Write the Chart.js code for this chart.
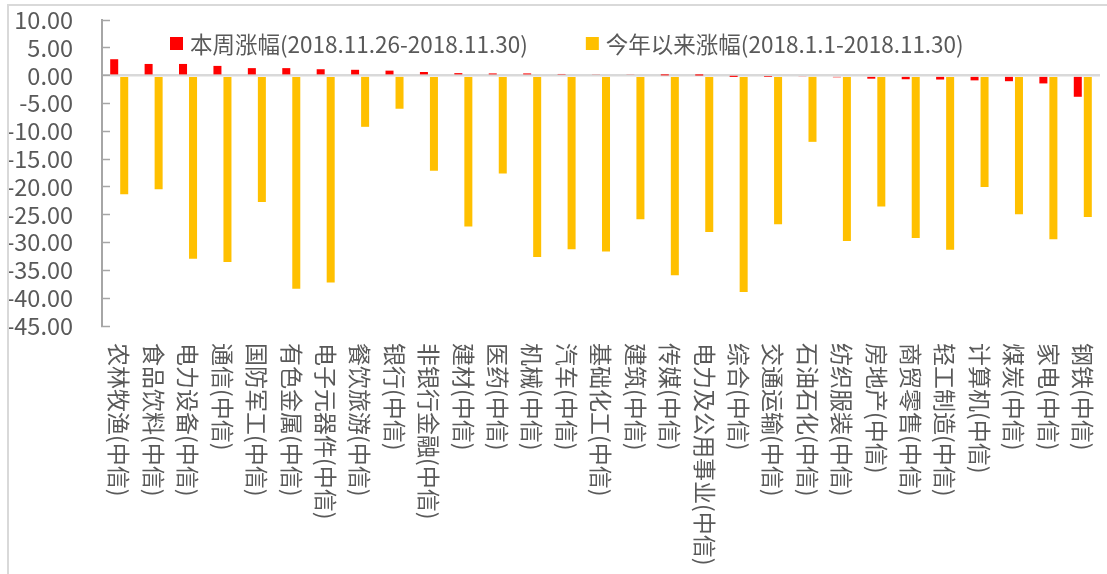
<!DOCTYPE html>
<html>
<head>
<meta charset="utf-8">
<script src="https://cdn.jsdelivr.net/npm/chart.js@4.4.1/dist/chart.umd.min.js"></script>
<style>
  html, body { margin: 0; padding: 0; background: #fff; }
  #wrap { position: relative; width: 1107px; height: 574px; overflow: hidden; }
  #frame { position: absolute; left: 7px; top: 4px; width: 1110px; height: 580px;
           border-top: 2px solid #d9d9d9; border-left: 2px solid #d9d9d9; pointer-events: none; }
  canvas { display: block; }
</style>
</head>
<body>
<div id="wrap">
  <canvas id="c" width="1107" height="574"></canvas>
  <div id="frame"></div>
</div>
<script>
const categories = [
  '农林牧渔(中信)', '食品饮料(中信)', '电力设备(中信)', '通信(中信)', '国防军工(中信)',
  '有色金属(中信)', '电子元器件(中信)', '餐饮旅游(中信)', '银行(中信)', '非银行金融(中信)',
  '建材(中信)', '医药(中信)', '机械(中信)', '汽车(中信)', '基础化工(中信)',
  '建筑(中信)', '传媒(中信)', '电力及公用事业(中信)', '综合(中信)', '交通运输(中信)',
  '石油石化(中信)', '纺织服装(中信)', '房地产(中信)', '商贸零售(中信)', '轻工制造(中信)',
  '计算机(中信)', '煤炭(中信)', '家电(中信)', '钢铁(中信)'
];
const seriesNames = ['本周涨幅(2018.11.26-2018.11.30)', '今年以来涨幅(2018.1.1-2018.11.30)'];
const weekChange = [
  2.95, 2.1, 2.1, 1.75, 1.35, 1.35, 1.15, 1.05, 0.9, 0.65,
  0.45, 0.4, 0.4, 0.3, 0.25, 0.2, 0.05, 0.02, -0.03, -0.1,
  -0.2, -0.3, -0.55, -0.65, -0.7, -0.85, -1.0, -1.4, -3.8
];
const ytdChange = [
  -21.3, -20.4, -32.9, -33.5, -22.7, -38.3, -37.2, -9.2, -5.95, -17.1,
  -27.1, -17.6, -32.6, -31.2, -31.6, -25.8, -35.9, -28.1, -38.9, -26.7,
  -11.9, -29.7, -23.5, -29.2, -31.3, -20.0, -24.9, -29.4, -25.4
];
const yTicks = { min: -45, max: 10, step: 5 };
const seriesColors = ['#FF0000', '#FFC000'];

const FONT = "'Noto Sans CJK SC', 'Noto Sans', sans-serif";
const TEXT = '#595959';

const rotatedLabels = {
  id: 'rotatedLabels',
  afterDraw(chart) {
    const ctx = chart.ctx;
    const xs = chart.scales.x;
    const top = chart.chartArea.bottom + 17;
    ctx.save();
    ctx.fillStyle = TEXT;
    ctx.font = '23px ' + FONT;
    ctx.textAlign = 'left';
    ctx.textBaseline = 'middle';
    chart.data.labels.forEach((lab, i) => {
      const x = xs.getPixelForTick(i);
      ctx.save();
      ctx.translate(x, top);
      ctx.rotate(Math.PI / 2);
      ctx.fillText(lab, 0, 0);
      ctx.restore();
    });
    ctx.restore();
  }
};

const innerLegend = {
  id: 'innerLegend',
  afterDraw(chart) {
    const ctx = chart.ctx;
    ctx.save();
    ctx.font = '22.5px ' + FONT;
    ctx.textBaseline = 'middle';
    ctx.textAlign = 'left';
    let x = 170;
    const yc = 44;
    chart.data.datasets.forEach(ds => {
      ctx.fillStyle = ds.backgroundColor;
      ctx.fillRect(x, yc - 7, 13, 13);
      ctx.fillStyle = TEXT;
      ctx.fillText(ds.label, x + 20, yc);
      x += 20 + ctx.measureText(ds.label).width + 58;
    });
    ctx.restore();
  }
};

function build() {
  new Chart(document.getElementById('c'), {
    type: 'bar',
    data: {
      labels: categories,
      datasets: [
        { label: seriesNames[0], data: weekChange, backgroundColor: seriesColors[0],
          categoryPercentage: 0.582, barPercentage: 0.8 },
        { label: seriesNames[1], data: ytdChange, backgroundColor: seriesColors[1],
          categoryPercentage: 0.582, barPercentage: 0.8 }
      ]
    },
    options: {
      responsive: false,
      animation: false,
      devicePixelRatio: 1,
      layout: { padding: { top: 20, right: 7, left: 0, bottom: 0 } },
      plugins: { legend: { display: false }, tooltip: { enabled: false } },
      scales: {
        x: {
          grid: { display: false },
          border: { display: false },
          ticks: { display: false },
          afterFit(s) { s.height = 248; s.paddingLeft = 0; s.paddingRight = 0; }
        },
        y: {
          min: yTicks.min, max: yTicks.max,
          ticks: {
            stepSize: yTicks.step,
            autoSkip: false,
            color: TEXT,
            font: { family: FONT, size: 23.5 },
            padding: 37,
            callback: v => Number(v).toFixed(2)
          },
          grid: {
            drawOnChartArea: true,
            color: c => (c.tick && c.tick.value === 0) ? '#d9d9d9' : 'rgba(0,0,0,0)',
            lineWidth: c => (c.tick && c.tick.value === 0) ? 2.5 : 1,
            tickColor: '#a6a6a6',
            tickWidth: 1.5,
            tickLength: -8
          },
          border: { display: true, color: '#a6a6a6', width: 2 },
          afterFit(s) { s.width = 102; s.paddingTop = 0; s.paddingBottom = 0; }
        }
      }
    },
    plugins: [rotatedLabels, innerLegend]
  });
}

if (document.fonts && document.fonts.load) {
  document.fonts.load('24px "Noto Sans CJK SC"').then(build, build);
} else {
  build();
}
</script>
</body>
</html>
